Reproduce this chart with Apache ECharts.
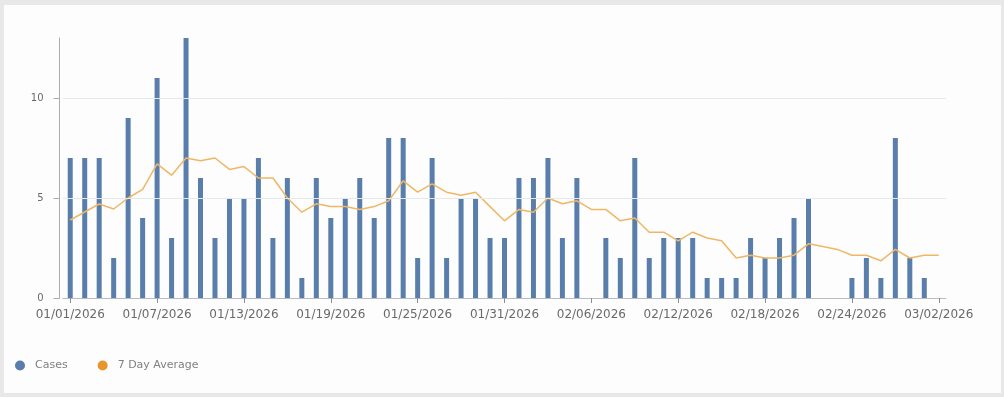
<!DOCTYPE html>
<html>
<head>
<meta charset="utf-8">
<title>Cases and 7 Day Average</title>
<script src="https://cdn.jsdelivr.net/npm/echarts@6/dist/echarts.min.js"></script>
<style>
  html, body { margin: 0; padding: 0; width: 1004px; height: 397px; overflow: hidden; background: #e8e8e8; }
  #card { position: absolute; left: 4px; top: 5px; right: 3px; bottom: 4px; background: #fdfdfd; }
  #chart { position: absolute; left: 0; top: 0; width: 1004px; height: 397px; }
</style>
</head>
<body>
<div id="card"></div>
<div id="chart"></div>
<script>
// Daily dates, 01/01/2026 through 03/02/2026
const dates = [
  '01/01/2026','01/02/2026','01/03/2026','01/04/2026','01/05/2026','01/06/2026','01/07/2026',
  '01/08/2026','01/09/2026','01/10/2026','01/11/2026','01/12/2026','01/13/2026','01/14/2026',
  '01/15/2026','01/16/2026','01/17/2026','01/18/2026','01/19/2026','01/20/2026','01/21/2026',
  '01/22/2026','01/23/2026','01/24/2026','01/25/2026','01/26/2026','01/27/2026','01/28/2026',
  '01/29/2026','01/30/2026','01/31/2026','02/01/2026','02/02/2026','02/03/2026','02/04/2026',
  '02/05/2026','02/06/2026','02/07/2026','02/08/2026','02/09/2026','02/10/2026','02/11/2026',
  '02/12/2026','02/13/2026','02/14/2026','02/15/2026','02/16/2026','02/17/2026','02/18/2026',
  '02/19/2026','02/20/2026','02/21/2026','02/22/2026','02/23/2026','02/24/2026','02/25/2026',
  '02/26/2026','02/27/2026','02/28/2026','03/01/2026','03/02/2026'
];

// Daily case counts
const cases = [
  7, 7, 7, 2, 9, 4, 11,
  3, 13, 6, 3, 5, 5, 7,
  3, 6, 1, 6, 4, 5, 6,
  4, 8, 8, 2, 7, 2, 5,
  5, 3, 3, 6, 6, 7, 3,
  6, 0, 3, 2, 7, 2, 3,
  3, 3, 1, 1, 1, 3, 2,
  3, 4, 5, 0, 0, 1, 2,
  1, 8, 2, 1, 0
];

// 7 day average of cases
const avg7 = [
  3.90, 4.30, 4.70, 4.45, 5.00, 5.43, 6.71,
  6.14, 7.00, 6.86, 7.00, 6.43, 6.57, 6.00,
  6.00, 5.00, 4.29, 4.71, 4.57, 4.57, 4.43,
  4.57, 4.86, 5.86, 5.29, 5.71, 5.29, 5.14,
  5.29, 4.57, 3.86, 4.43, 4.29, 5.00, 4.71,
  4.86, 4.43, 4.43, 3.86, 4.00, 3.29, 3.29,
  2.86, 3.29, 3.00, 2.86, 2.00, 2.14, 2.00,
  2.00, 2.14, 2.71, 2.57, 2.43, 2.14, 2.14,
  1.86, 2.43, 2.00, 2.14, 2.14
];

// Horizontal reference lines on the value axis
const gridValues = [5, 10];

const chart = echarts.init(document.getElementById('chart'), null, { renderer: 'canvas' });

chart.setOption({
  backgroundColor: 'transparent',
  animation: false,
  textStyle: { fontFamily: 'DejaVu Sans' },
  grid: { left: 63, right: 58, top: 38, bottom: 99, containLabel: false },
  legend: {
    left: 10,
    top: 355,
    itemWidth: 20,
    itemHeight: 10,
    itemGap: 30,
    icon: 'circle',
    textStyle: { color: '#808080', fontSize: 11, fontFamily: 'DejaVu Sans' },
    data: ['Cases', '7 Day Average']
  },
  xAxis: {
    type: 'category',
    data: dates,
    boundaryGap: true,
    axisLine: { show: true, lineStyle: { color: '#b8bcc2', width: 1 } },
    axisTick: { show: true, interval: 5, alignWithLabel: true, length: 5, lineStyle: { color: '#8a8f96' } },
    axisLabel: { interval: 5, margin: 11, color: '#6a6a6a', fontSize: 12, fontFamily: 'DejaVu Sans' },
    splitLine: { show: false }
  },
  yAxis: {
    type: 'value',
    min: 0,
    max: 13,
    interval: 5,
    offset: 3.5,
    axisLine: { show: true, lineStyle: { color: '#a9adb2', width: 1 } },
    axisTick: { show: true, length: 6, lineStyle: { color: '#a9adb2' } },
    axisLabel: { margin: 16, color: '#6a6a6a', fontSize: 10, showMaxLabel: false, fontFamily: 'DejaVu Sans' },
    splitLine: { show: false }
  },
  series: [
    {
      name: 'Cases',
      type: 'bar',
      data: cases,
      barWidth: 5,
      itemStyle: { color: '#5a7eab' },
      markLine: {
        silent: true,
        symbol: 'none',
        label: { show: false },
        lineStyle: { color: '#e6e9ec', type: 'solid', width: 1 },
        data: gridValues.map(v => ({ yAxis: v }))
      },
      z: 2
    },
    {
      name: '7 Day Average',
      type: 'line',
      data: avg7,
      showSymbol: false,
      symbol: 'circle',
      smooth: false,
      lineStyle: { color: '#efb765', width: 1.5 },
      itemStyle: { color: '#e8952e' },
      z: 3
    }
  ]
});
</script>
</body>
</html>
